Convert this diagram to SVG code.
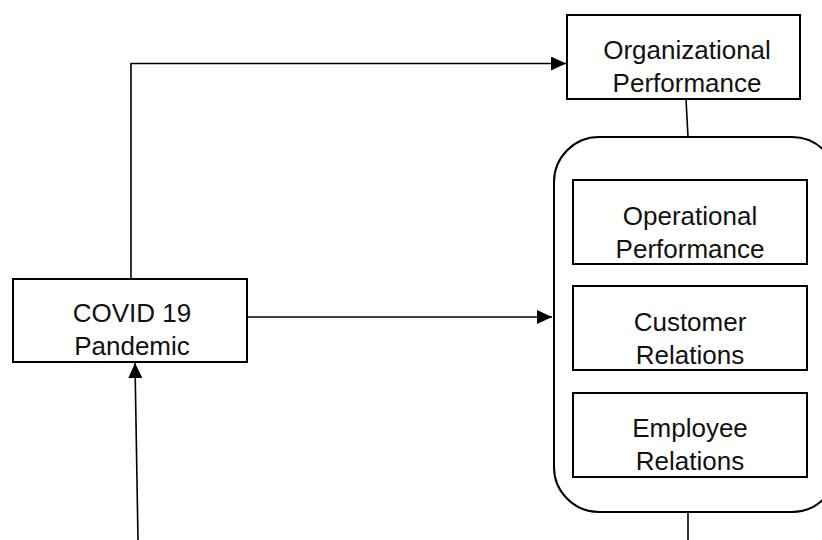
<svg xmlns="http://www.w3.org/2000/svg" width="822" height="540" viewBox="0 0 822 540">
<defs>
<marker id="arr" markerUnits="userSpaceOnUse" markerWidth="16" markerHeight="14" refX="15" refY="7" orient="auto">
<path d="M0,0 L15,7 L0,14 Z" fill="#000"/>
</marker>
<style>
.box{fill:#fff;stroke:#000;stroke-width:2}
.con{fill:none;stroke:#000;stroke-width:1.6}
text{font-family:"Liberation Sans",Arial,sans-serif;font-size:26px;fill:#111;text-anchor:middle}
</style>
</defs>
<rect width="822" height="540" fill="#fff"/>
<g id="connectors">
<polyline class="con" points="131,279 131,63.5 566,63.5" marker-end="url(#arr)"/>
<line class="con" x1="247" y1="317" x2="552" y2="317" marker-end="url(#arr)"/>
<line class="con" x1="138" y1="540" x2="135" y2="363" marker-end="url(#arr)"/>
<line class="con" x1="686" y1="99" x2="688" y2="137"/>
<line class="con" x1="688" y1="512" x2="688" y2="540"/>
</g>
<g id="organizational-performance">
<rect class="box" x="567" y="15" width="233" height="84"/>
<text x="687" y="59">Organizational</text>
<text x="687" y="92">Performance</text>
</g>
<g id="covid-19-pandemic">
<rect class="box" x="13" y="279" width="234" height="83"/>
<text x="132" y="322">COVID 19</text>
<text x="132" y="355">Pandemic</text>
</g>
<g id="performance-group">
<rect class="box" x="554" y="137" width="283" height="375" rx="45" ry="45"/>
</g>
<g id="operational-performance">
<rect class="box" x="573" y="180" width="234" height="84"/>
<text x="690" y="225">Operational</text>
<text x="690" y="258">Performance</text>
</g>
<g id="customer-relations">
<rect class="box" x="573" y="286" width="234" height="84"/>
<text x="690" y="331">Customer</text>
<text x="690" y="364">Relations</text>
</g>
<g id="employee-relations">
<rect class="box" x="573" y="393" width="234" height="84"/>
<text x="690" y="437">Employee</text>
<text x="690" y="470">Relations</text>
</g>
</svg>
